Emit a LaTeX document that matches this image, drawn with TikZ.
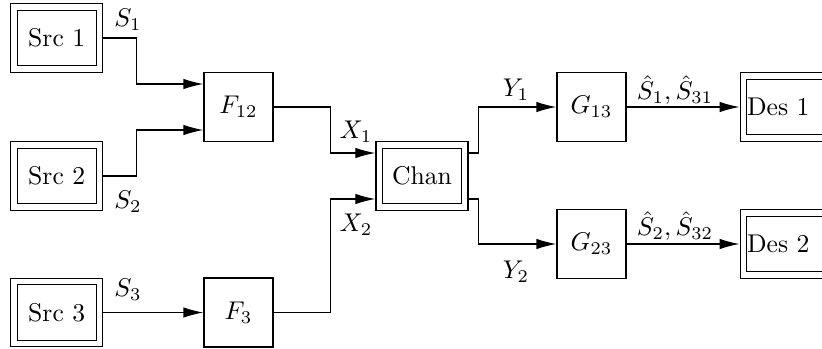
\documentclass[tikz,border=0pt]{standalone}
\usetikzlibrary{arrows.meta,calc}
\begin{document}
\begin{tikzpicture}[x=0.39pt,y=-0.39pt, line width=0.5pt,
  dbox/.style={draw, double, double distance=2.04pt, minimum width=33.35pt,
    minimum height=24.2pt, inner sep=0pt, outer sep=1.52pt},
  desbox/.style={dbox, text width=30.6pt, align=left, inner xsep=1.37pt},
  sbox/.style={draw, minimum width=26.9pt, minimum height=26.9pt, inner sep=0pt},
  arr/.style={-{Latex[length=7.8pt,width=4.1pt]}},
  lbl/.style={inner sep=0pt}]
\useasboundingbox (0,0) rectangle (822,349);
\clip (0,0) rectangle (822,349);

% sources
\node[dbox] (src1) at (56.75,38) {Src 1};
\node[dbox] (src2) at (56.75,176) {Src 2};
\node[dbox] (src3) at (56.75,312.5) {Src 3};

% encoders
\node[sbox] (f12) at (238.5,107) {$F_{12}$};
\node[sbox] (f3) at (238.5,312.5) {$F_3$};

% channel
\node[dbox] (chan) at (422,176) {Chan};

% decoders
\node[sbox] (g13) at (591.5,107) {$G_{13}$};
\node[sbox] (g23) at (591.5,244) {$G_{23}$};

% destinations
\node[desbox] (des1) at (786.25,107) {Des 1};
\node[desbox] (des2) at (786.25,244) {Des 2};

% connectors
\draw[arr] (src1.east) -- ++(33,0) |- ($(f12.west)+(0,-23)$);
\draw[arr] (src2.east) -- ++(33,0) |- ($(f12.west)+(0,23)$);
\draw[arr] (src3.east) -- (f3.west);
\draw[arr] (f12.east) -- ++(57,0) |- ($(chan.west)+(0,-23)$);
\draw[arr] (f3.east) -- ++(57,0) |- ($(chan.west)+(0,23)$);
\draw[arr] ($(chan.east)+(0,-23)$) -- ++(10,0) |- (g13.west);
\draw[arr] ($(chan.east)+(0,23)$) -- ++(10,0) |- (g23.west);
\draw[arr] (g13.east) -- (des1.west);
\draw[arr] (g23.east) -- (des2.west);

% signal labels
\node[lbl] (ls1) at (128,20) {$S_1$};
\node[lbl] (ls2) at (128,202) {$S_2$};
\node[lbl] (ls3) at (128,290) {$S_3$};
\node[lbl] (lx1) at (356,132) {$X_1$};
\node[lbl] (lx2) at (356,225) {$X_2$};
\node[lbl] (ly1) at (516,90) {$Y_1$};
\node[lbl] (ly2) at (516,272) {$Y_2$};
\node[lbl] (lh1) at (675,90) {$\hat S_1,\hat S_{31}$};
\node[lbl] (lh2) at (675,226) {$\hat S_2,\hat S_{32}$};
\end{tikzpicture}
\end{document}
